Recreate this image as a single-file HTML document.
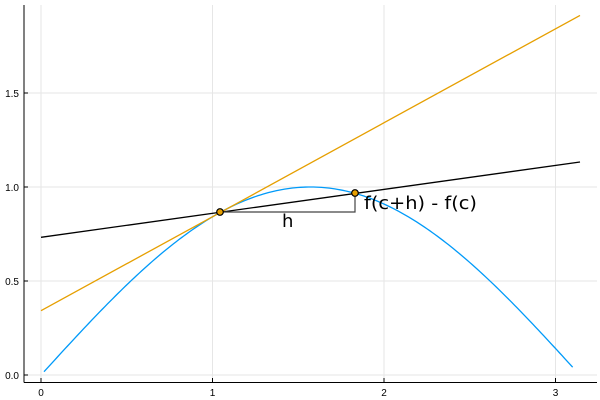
<!DOCTYPE html>
<html><head><meta charset="utf-8"><style>
html,body{margin:0;padding:0;background:#fff;}
svg{display:block;font-family:"Liberation Sans",sans-serif;}
</style></head><body>
<svg id="s" width="600" height="400" viewBox="0 0 600 400">
<g stroke="#e6e6e6" stroke-width="1">
<line x1="41" y1="5" x2="41" y2="382"/><line x1="212.5" y1="5" x2="212.5" y2="382"/>
<line x1="384" y1="5" x2="384" y2="382"/><line x1="555.5" y1="5" x2="555.5" y2="382"/>
<line x1="24" y1="375" x2="597" y2="375"/><line x1="24" y1="281" x2="597" y2="281"/>
<line x1="24" y1="187" x2="597" y2="187"/><line x1="24" y1="93" x2="597" y2="93"/>
</g>
<g stroke="#000" stroke-width="1">
<line x1="24" y1="5" x2="24" y2="382.5"/><line x1="24" y1="382.5" x2="597" y2="382.5"/>
<line x1="41" y1="382" x2="41" y2="378"/><line x1="212.5" y1="382" x2="212.5" y2="378"/>
<line x1="384" y1="382" x2="384" y2="378"/><line x1="555.5" y1="382" x2="555.5" y2="378"/>
<line x1="24" y1="375" x2="28" y2="375"/><line x1="24" y1="281" x2="28" y2="281"/>
<line x1="24" y1="187" x2="28" y2="187"/><line x1="24" y1="93" x2="28" y2="93"/>
</g>
<g font-size="10" fill="#000" text-anchor="middle">
<text x="41" y="396">0</text><text x="212.5" y="396">1</text><text x="384" y="396">2</text><text x="555.5" y="396">3</text>
</g>
<g font-size="10" fill="#000" text-anchor="end">
<text x="19" y="379">0.0</text><text x="19" y="285">0.5</text><text x="19" y="191">1.0</text><text x="19" y="97">1.5</text>
</g>
<path id="sin" fill="none" stroke="#009af9" stroke-width="1.3"/>
<line x1="41" y1="310.7" x2="580" y2="15.4" stroke="#e69f00" stroke-width="1.3"/>
<line x1="41" y1="237.3" x2="580" y2="162" stroke="#000" stroke-width="1.3"/>
<polyline points="220,212 355,212 355,193" fill="none" stroke="#444" stroke-width="1.2"/>
<circle cx="220" cy="212" r="3.3" fill="#e69f00" stroke="#000" stroke-width="1.2"/>
<circle cx="355" cy="193" r="3.3" fill="#e69f00" stroke="#000" stroke-width="1.2"/>
<g font-family="'DejaVu Sans',sans-serif" font-size="18" fill="#000">
<text x="282" y="227">h</text>
<text x="364" y="209" textLength="113" lengthAdjust="spacingAndGlyphs">f(c+h) - f(c)</text>
</g>
</svg>
<script>
var d="";for(var i=0;i<=200;i++){var x=0.0175+(3.10-0.0175)*i/200;var px=41+171.5*x,py=375-188*Math.sin(x);d+=(i?"L":"M")+px.toFixed(2)+","+py.toFixed(2);}
document.getElementById("sin").setAttribute("d",d);
</script>
</body></html>
